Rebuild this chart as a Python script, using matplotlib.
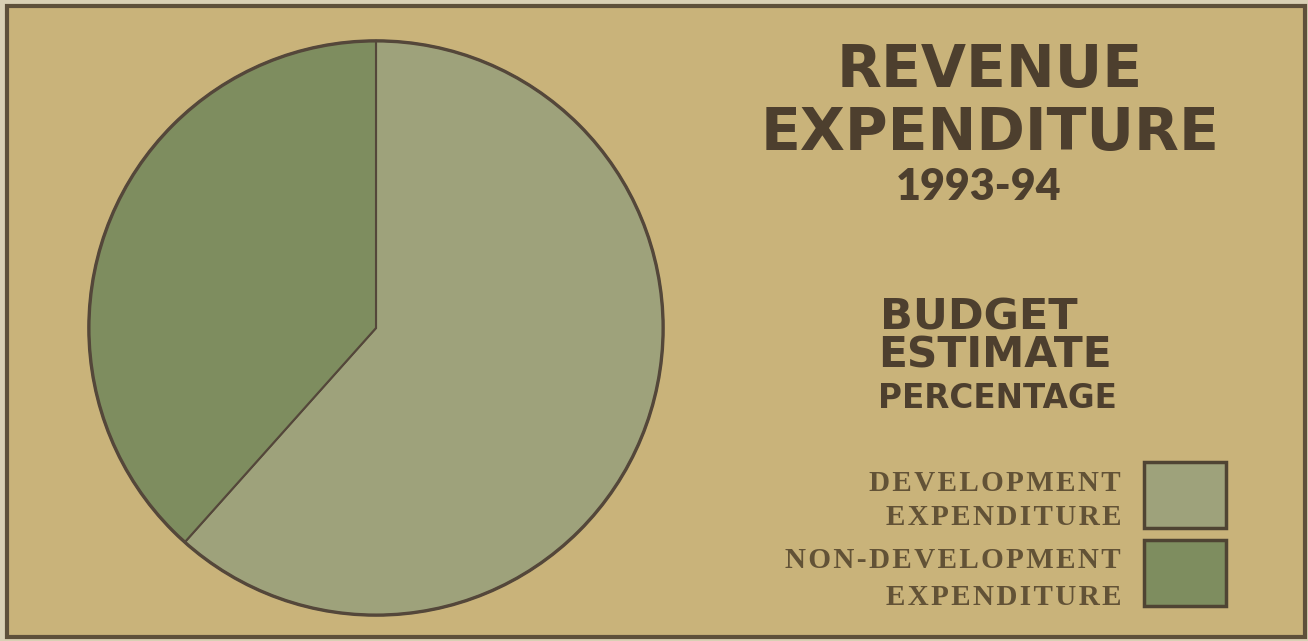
import matplotlib
matplotlib.use("Agg")
import matplotlib.pyplot as plt
from matplotlib.patches import Rectangle

# Pie data (percent of revenue expenditure)
categories = ["DEVELOPMENT\nEXPENDITURE", "NON-DEVELOPMENT\nEXPENDITURE"]
shares = [61.6, 38.4]
slice_colors = ["#9ea27b", "#7e8d5f"]

title_lines = ["REVENUE", "EXPENDITURE", "1993-94"]
sub_lines = ["BUDGET", "ESTIMATE", "PERCENTAGE"]

W, H = 1308, 641
bg = "#c9b37a"
ink = "#4d3f2e"
edge = "#54473a"

fig = plt.figure(figsize=(W / 100, H / 100), dpi=100)
fig.patch.set_facecolor("#d9d0b4")

# background panel with dark border
frame = fig.add_axes([0, 0, 1, 1])
frame.set_xlim(0, W)
frame.set_ylim(H, 0)
frame.axis("off")
frame.add_patch(Rectangle((7, 6), 1298, 631, facecolor=bg, edgecolor="#5e503a", lw=3))

# pie, centre at (376, 328) px, radius 290 px
cx, cy, r = 376, 328, 290
ax = fig.add_axes([(cx - r) / W, (H - cy - r) / H, 2 * r / W, 2 * r / H])
ax.pie(shares, colors=slice_colors, startangle=90, counterclock=False,
       wedgeprops=dict(edgecolor=edge, linewidth=1.5))
# heavier outer rim
ax.add_patch(plt.Circle((0, 0), 1, fill=False, edgecolor=edge, lw=2.4))
ax.set_xlim(-1.01, 1.01)
ax.set_ylim(-1.01, 1.01)
ax.set_aspect("auto")

# titles (baseline placed at the bottom of the capitals)
sans = ["DejaVu Sans"]
frame.text(990, 87, title_lines[0], fontsize=42, fontweight="bold", family=sans,
           color=ink, ha="center", va="baseline")
frame.text(990, 150, title_lines[1], fontsize=42, fontweight="bold", family=sans,
           color=ink, ha="center", va="baseline")
frame.text(979, 200, title_lines[2], fontsize=31, fontweight="heavy", family=["Lato"],
           color=ink, ha="center", va="baseline")

frame.text(880, 329, sub_lines[0], fontsize=31, fontweight="bold", family=sans,
           color=ink, ha="left", va="baseline")
frame.text(878, 368, sub_lines[1], fontsize=30.5, fontweight="bold", family=sans,
           color=ink, ha="left", va="baseline")
frame.text(878, 408, sub_lines[2], fontsize=23.5, fontweight="bold", family=sans,
           color=ink, ha="left", va="baseline")

# legend: letter-spaced serif labels right-aligned next to swatches
serif = ["Liberation Serif", "DejaVu Serif"]
leg_ink = "#625236"
box_y = [462, 540]
label_y = [(491, 525), (568, 605)]
for i, lab in enumerate(categories):
    frame.add_patch(Rectangle((1144, box_y[i]), 82, 66, facecolor=slice_colors[i],
                              edgecolor="#4f4433", lw=2.5))
    for line, y in zip(lab.split("\n"), label_y[i]):
        spaced = "\u200a".join(line)
        frame.text(1121, y, spaced, fontsize=21, fontweight="bold", family=serif,
                   color=leg_ink, ha="right", va="baseline")

fig.savefig("out.png", dpi=100, facecolor=fig.get_facecolor())
